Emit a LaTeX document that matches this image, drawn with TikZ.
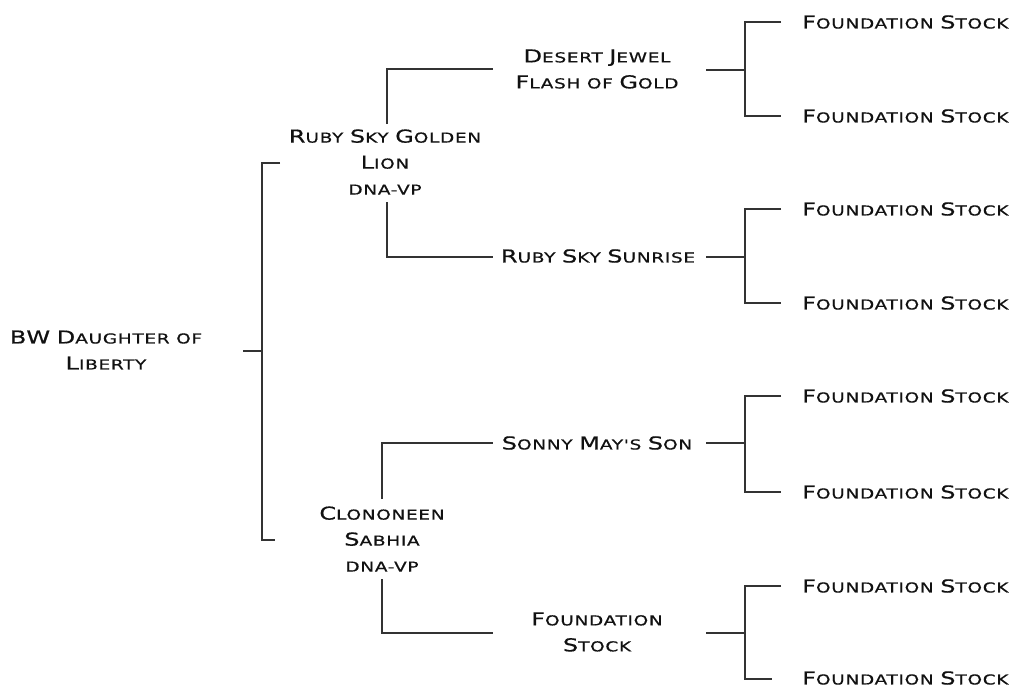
\documentclass[tikz,border=0pt]{standalone}
\usepackage{fontspec}
\newfontfamily\cpfont[FakeStretch=1.35,LetterSpace=5,FakeBold=0.6]{DejaVu Sans}
\newcommand\K[1]{{\fontsize{17.8}{26}\selectfont #1}}
\definecolor{ln}{HTML}{333333}
\definecolor{txt}{HTML}{111111}
\tikzset{
  lbl/.style={font=\cpfont\fontsize{13.7}{26}\selectfont, align=center, text=txt, inner sep=0pt},
  fs/.style={lbl, anchor=west},
  br/.style={draw=ln, line width=1.4pt},
}
\begin{document}
\begin{tikzpicture}[x=1pt,y=-1pt]
\useasboundingbox (0,0) rectangle (1016,688);
% generation 0
\node[lbl] (root) at (106,350) {\K{BW} \K{D}AUGHTER OF\\\K{L}IBERTY};
% generation 1
\node[lbl] (a) at (385,162) {\K{R}UBY \K{S}KY \K{G}OLDEN\\\K{L}ION\\DNA-VP};
\node[lbl] (b) at (382,539) {\K{C}LONONEEN\\\K{S}ABHIA\\DNA-VP};
% generation 2
\node[lbl] (aa) at (597,69) {\K{D}ESERT \K{J}EWEL\\\K{F}LASH OF \K{G}OLD};
\node[lbl] (ab) at (598,256) {\K{R}UBY \K{S}KY \K{S}UNRISE};
\node[lbl] (ba) at (597,443) {\K{S}ONNY \K{M}AY'S \K{S}ON};
\node[lbl] (bb) at (597,632) {\K{F}OUNDATION\\\K{S}TOCK};
% generation 3
\node[fs] (f1) at (802,22)  {\K{F}OUNDATION \K{S}TOCK};
\node[fs] (f2) at (802,116) {\K{F}OUNDATION \K{S}TOCK};
\node[fs] (f3) at (802,209) {\K{F}OUNDATION \K{S}TOCK};
\node[fs] (f4) at (802,303) {\K{F}OUNDATION \K{S}TOCK};
\node[fs] (f5) at (802,396) {\K{F}OUNDATION \K{S}TOCK};
\node[fs] (f6) at (802,492) {\K{F}OUNDATION \K{S}TOCK};
\node[fs] (f7) at (802,586) {\K{F}OUNDATION \K{S}TOCK};
\node[fs] (f8) at (802,678) {\K{F}OUNDATION \K{S}TOCK};
% connector coordinates
\coordinate (rs) at (243,351);
\coordinate (rt) at (280,163);
\coordinate (rb) at (275,540);
\coordinate (a1) at (387,124);
\coordinate (a1e) at (493,69);
\coordinate (a2) at (387,202);
\coordinate (a2e) at (493,257);
\coordinate (b1) at (382,499);
\coordinate (b1e) at (493,443);
\coordinate (b2) at (382,579);
\coordinate (b2e) at (493,633);
\coordinate (aas) at (706,70);
\coordinate (abs) at (706,257);
\coordinate (bas) at (706,443);
\coordinate (bbs) at (706,633);
\coordinate (t1) at (781,22);  \coordinate (t2) at (781,116);
\coordinate (t3) at (781,209); \coordinate (t4) at (781,303);
\coordinate (t5) at (781,396); \coordinate (t6) at (781,492);
\coordinate (t7) at (781,586); \coordinate (t8) at (772,679);
% connectors
\draw[br] (rs) -- ++(19,0);
\draw[br] (rt) -- ++(-18,0) |- (rb);
\draw[br] (a1) |- (a1e);
\draw[br] (a2) |- (a2e);
\draw[br] (b1) |- (b1e);
\draw[br] (b2) |- (b2e);
\draw[br] (aas) -- ++(39,0);
\draw[br] (abs) -- ++(39,0);
\draw[br] (bas) -- ++(39,0);
\draw[br] (bbs) -- ++(39,0);
\draw[br] (t1) -- (745,22) |- (t2);
\draw[br] (t3) -- (745,209) |- (t4);
\draw[br] (t5) -- (745,396) |- (t6);
\draw[br] (t7) -- (745,586) |- (t8);
\end{tikzpicture}
\end{document}
